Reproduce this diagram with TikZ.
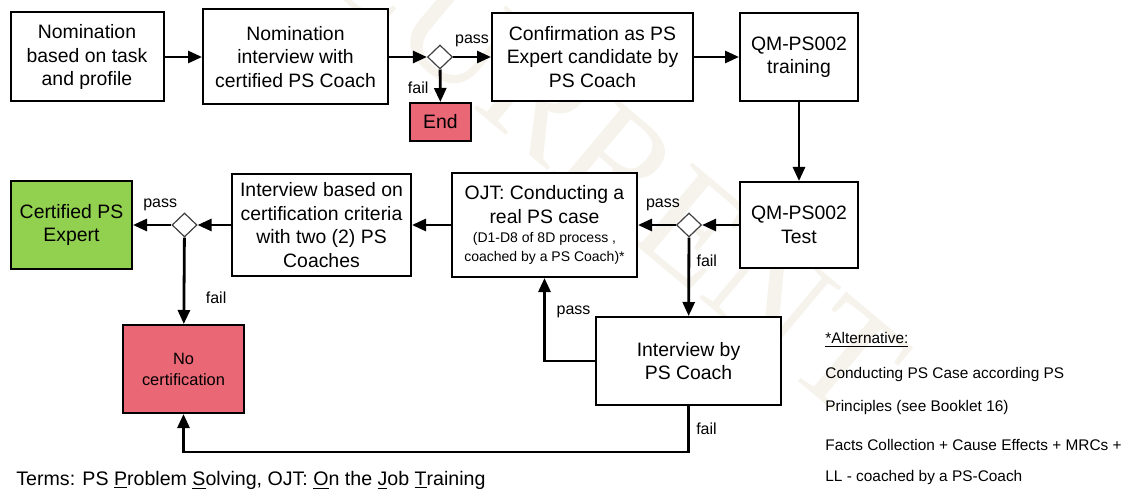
\documentclass[tikz,border=0pt]{standalone}
\usepackage{fontspec}
\setmainfont{Liberation Sans}
\newfontfamily\wmfont{Liberation Serif}
\usetikzlibrary{positioning, calc, shapes.geometric, arrows.meta}
\definecolor{endred}{RGB}{234,103,118}
\definecolor{certgreen}{RGB}{146,208,80}
\definecolor{wmbeige}{RGB}{245,243,235}
\newcommand{\mainfs}{\fontsize{9.7}{11.75}\selectfont}
\newcommand{\smallfs}{\fontsize{7}{9}\selectfont}

\begin{document}
\begin{tikzpicture}[
        x=0.5pt, y=-0.5pt,
        stepbox/.style={rectangle, draw=black, line width=1pt, fill=white,
                        align=center, font=\mainfs, inner sep=2pt},
        endbox/.style={stepbox, fill=endred},
        okbox/.style={stepbox, fill=certgreen},
        decide/.style={diamond, draw=black!75, line width=0.6pt, fill=white,
                       inner sep=0pt, minimum width=12.5pt, minimum height=12pt},
        flow/.style={-{Triangle[length=7pt, width=6pt]}, line width=1.4pt},
        lbl/.style={font=\fontsize{8}{9.6}\selectfont, inner sep=0pt},
        note/.style={anchor=west, align=left, inner sep=0pt, font=\fontsize{7.7}{16.5}\selectfont},
    ]
    \useasboundingbox (0,0) rectangle (1125,492);
    \clip (0,0) rectangle (1125,492);

    % ===== Watermark =====
    \node[font=\wmfont\fontsize{76}{76}\selectfont, text=wmbeige, rotate=-40]
        (wmark) at (612,160) {CURRENT};

    % ===== Row 1: nomination and training =====
    \node[stepbox, minimum width=76.5pt, minimum height=44.5pt] (nomTask) at (87,57)
        {Nomination\\based on task\\and profile};
    \node[stepbox, minimum width=92.5pt, minimum height=47.5pt] (nomIntv) at (295.5,57)
        {Nomination\\interview with\\certified PS Coach};
    \node[decide] (dec1) at (440,57) {};
    \node[endbox, minimum width=30.5pt, minimum height=19pt] (stopEnd) at (440.5,122) {End};
    \node[stepbox, minimum width=100.5pt, minimum height=44pt] (confirm) at (592.5,57)
        {Confirmation as PS\\Expert candidate by\\PS Coach};
    \node[stepbox, minimum width=59pt, minimum height=44pt] (training) at (799,57)
        {QM-PS002\\training};

    \draw[flow] (nomTask) -- (nomIntv);
    \draw[flow] (nomIntv) -- (dec1);
    \draw[flow] (dec1) -- node[lbl, yshift=8pt] {pass} (confirm);
    \draw[flow] (dec1) -- node[lbl, xshift=-11pt, yshift=-1pt] {fail} (stopEnd);
    \draw[flow] (confirm) -- (training);

    % ===== Row 2: test, OJT, certification interview =====
    \node[stepbox, minimum width=59pt, minimum height=43pt] (test) at (799,225)
        {QM-PS002\\Test};
    \node[decide] (dec2) at (689,225) {};
    \node[stepbox, minimum width=92.5pt, minimum height=52pt] (ojt) at (544.5,225)
        {OJT: Conducting a\\real PS case\\[-2pt]\smallfs (D1-D8 of 8D process ,\\[-2.5pt]\smallfs coached by a PS Coach)*};
    \node[stepbox, minimum width=89.5pt, minimum height=50.5pt] (certIntv) at (321.5,225)
        {Interview based on\\certification criteria\\with two (2) PS\\Coaches};
    \node[decide] (dec3) at (184.5,225) {};
    \node[okbox, minimum width=60.5pt, minimum height=43.5pt] (certified) at (71.5,225)
        {Certified PS\\Expert};

    \draw[flow] (training) -- (test);
    \draw[flow] (test) -- (dec2);
    \draw[flow] (dec2) -- node[lbl, xshift=3pt, yshift=10pt] {pass} (ojt);
    \draw[flow] (ojt) -- (certIntv);
    \draw[flow] (certIntv) -- (dec3);
    \draw[flow] (dec3) -- node[lbl, xshift=4pt, yshift=10pt] {pass} (certified);

    % ===== Row 3: coach interview and no certification =====
    \node[stepbox, minimum width=92.5pt, minimum height=44pt] (coachIntv) at (688.5,361)
        {Interview by\\PS Coach};
    \node[endbox, minimum width=60.5pt, minimum height=44pt,
          font=\fontsize{8.2}{10.5}\selectfont] (noCert) at (183.5,369)
        {No\\certification};
    \coordinate (failTurn) at (183.5,452);

    \draw[flow] (dec2) -- node[lbl, xshift=9pt, yshift=8pt] {fail} (coachIntv);
    \draw[flow] (coachIntv.west) -| node[lbl, pos=0.75, xshift=14.5pt, yshift=4pt] {pass} (ojt.south);
    \draw[flow] (dec3) -- node[lbl, xshift=16pt, yshift=-8.5pt] {fail} (noCert);
    \draw[flow] (coachIntv.south) |- node[lbl, pos=0.25, xshift=9pt] {fail} (failTurn) -- (noCert.south);

    % ===== Notes =====
    \node[note] (altHead) at (825,340) {\underline{*Alternative:}};
    \node[note] (altOne) at (825,391.5) {Conducting PS Case according PS\\Principles (see Booklet 16)};
    \node[note, font=\fontsize{7.7}{15.5}\selectfont] (altTwo) at (825,462.5)
        {Facts Collection + Cause Effects + MRCs +\\LL - coached by a PS-Coach};
    \node[note, font=\fontsize{9.8}{11}\selectfont] (terms) at (16,480)
        {Terms: PS \underline{P}roblem \underline{S}olving, OJT: \underline{O}n the \underline{J}ob \underline{T}raining};

\end{tikzpicture}
\end{document}
